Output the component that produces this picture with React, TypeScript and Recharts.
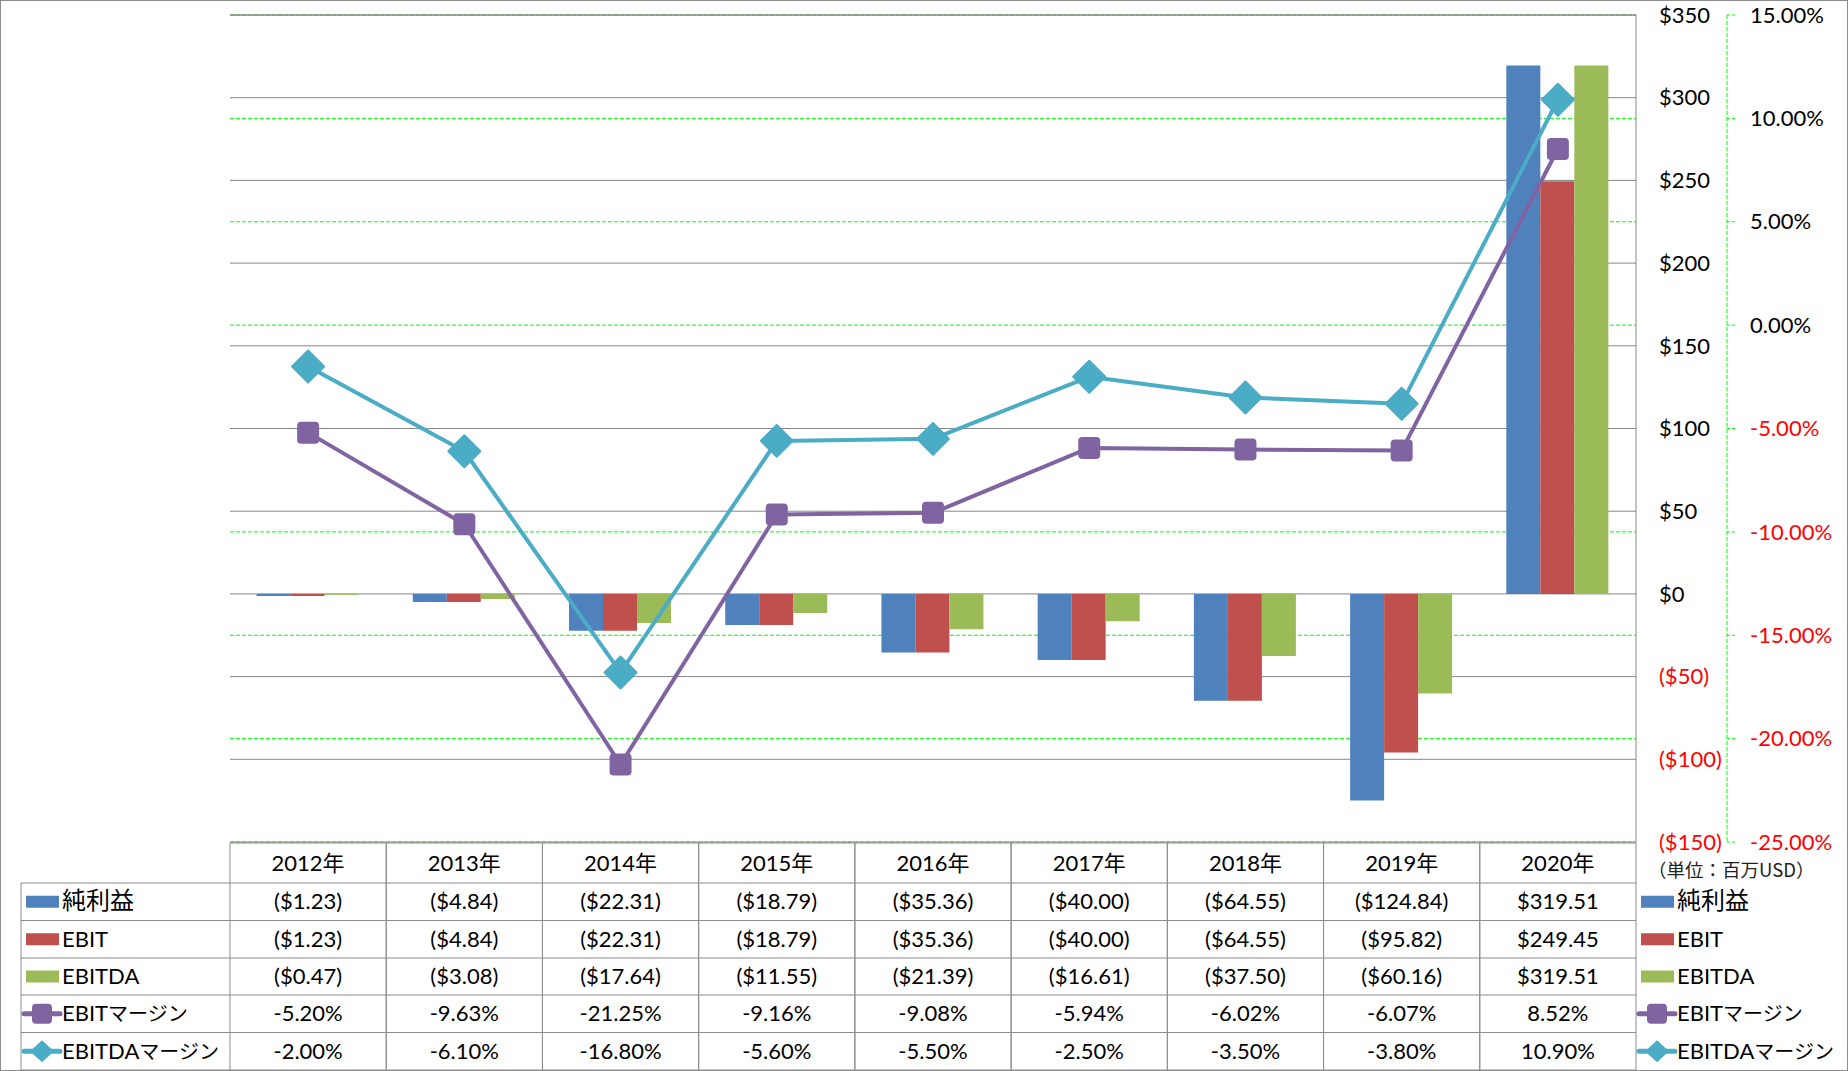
import React from 'react';
import { ComposedChart, Bar, Line, XAxis, YAxis, CartesianGrid, ReferenceLine } from 'recharts';

const years = ['2012年', '2013年', '2014年', '2015年', '2016年', '2017年', '2018年', '2019年', '2020年'];
const netIncome = [-1.23, -4.84, -22.31, -18.79, -35.36, -40.0, -64.55, -124.84, 319.51];
const ebit = [-1.23, -4.84, -22.31, -18.79, -35.36, -40.0, -64.55, -95.82, 249.45];
const ebitda = [-0.47, -3.08, -17.64, -11.55, -21.39, -16.61, -37.5, -60.16, 319.51];
const ebitMargin = [-5.2, -9.63, -21.25, -9.16, -9.08, -5.94, -6.02, -6.07, 8.52];
const ebitdaMargin = [-2.0, -6.1, -16.8, -5.6, -5.5, -2.5, -3.5, -3.8, 10.9];

const usdTicks = [-150, -100, -50, 0, 50, 100, 150, 200, 250, 300, 350];
const pctTicks = [-25, -20, -15, -10, -5, 0, 5, 10, 15];
const seriesNames = ['純利益', 'EBIT', 'EBITDA', 'EBITマージン', 'EBITDAマージン'];
const seriesColors = ['#4F81BD', '#C0504D', '#9BBB59', '#8064A2', '#4BACC6'];
const unitLabel = '（単位：百万USD）';

const data = years.map((year, i) => ({
  year,
  net: netIncome[i],
  ebit: ebit[i],
  ebitda: ebitda[i],
  ebitMargin: ebitMargin[i],
  ebitdaMargin: ebitdaMargin[i],
}));

// ids sort so the dollar axis sits next to the plot
const USD = 'a_usd';
const PCT = 'b_pct';
const FONT = "Lato, 'Noto Sans CJK JP', sans-serif";
const BORDER = '#8c8c8c';
const GRID = '#868686';
// table row edges (header + 5 rows)
const ROWS = [843, 883, 920.5, 958, 995, 1032.5, 1070];
const rowMid = (r: number) => (ROWS[r] + ROWS[r + 1]) / 2;

const fmtMoney = (v: number) => (v < 0 ? `($${Math.abs(v).toFixed(2)})` : `$${v.toFixed(2)}`);
const fmtPct = (v: number) => `${v.toFixed(2)}%`;

const UsdTick = (props: any) => {
  const { x, y, payload } = props;
  const v = payload.value;
  return (
    <text x={x} y={y} dy="0.35em" textAnchor="start" fontSize={22} fontFamily={FONT} fill={v < 0 ? '#FF0000' : '#000'}>
      {v < 0 ? `($${-v})` : `$${v}`}
    </text>
  );
};

const PctTick = (props: any) => {
  const { x, y, payload } = props;
  const v = payload.value;
  return (
    <text x={x} y={y} dy="0.35em" textAnchor="start" fontSize={22} fontFamily={FONT} fill={v < 0 ? '#FF0000' : '#000'}>
      {fmtPct(v)}
    </text>
  );
};

const TableTick = (props: any) => {
  const { x, payload } = props;
  const i = payload.index ?? props.index;
  const half = payload.offset || 78.1;
  const cells = [
    fmtMoney(netIncome[i]),
    fmtMoney(ebit[i]),
    fmtMoney(ebitda[i]),
    fmtPct(ebitMargin[i]),
    fmtPct(ebitdaMargin[i]),
  ];
  return (
    <g>
      {ROWS.map((ry) => (
        <line key={ry} x1={x - half} x2={x + half} y1={ry} y2={ry} stroke={BORDER} />
      ))}
      <line x1={x - half} x2={x - half} y1={ROWS[0]} y2={ROWS[6]} stroke={BORDER} />
      <line x1={x + half} x2={x + half} y1={ROWS[0]} y2={ROWS[6]} stroke={BORDER} />
      <text x={x} y={rowMid(0)} dy="0.35em" textAnchor="middle" fontSize={22} fontFamily={FONT} fill="#000">
        {payload.value}
      </text>
      {cells.map((c, r) => (
        <text key={r} x={x} y={rowMid(r + 1)} dy="0.35em" textAnchor="middle" fontSize={22} fontFamily={FONT} fill="#000">
          {c}
        </text>
      ))}
    </g>
  );
};

const SquareDot = (p: any) => (
  <rect key={`sq-${p.index}`} x={p.cx - 11} y={p.cy - 11} width={22} height={22} rx={4} fill="#8064A2" />
);

const DiamondDot = (p: any) => (
  <polygon
    key={`dm-${p.index}`}
    points={`${p.cx},${p.cy - 16} ${p.cx + 16},${p.cy} ${p.cx},${p.cy + 16} ${p.cx - 16},${p.cy}`}
    fill="#4BACC6"
    stroke="#4BACC6"
    strokeWidth={2}
    strokeLinejoin="round"
  />
);

const LegendLabel = ({ x, y, name }: { x: number; y: number; name: string }) => {
  const m = name.match(/^([A-Z]+)(マージン)$/);
  return (
    <text x={x} y={y} dy="0.35em" fontFamily={FONT} fontSize={22} fill="#000">
      {m ? (
        <>
          {m[1]}
          <tspan fontSize={20}>{m[2]}</tspan>
        </>
      ) : name === '純利益' ? (
        <tspan fontSize={24}>{name}</tspan>
      ) : (
        name
      )}
    </text>
  );
};

const LegendKey = ({ cx, cy, idx }: { cx: number; cy: number; idx: number }) => {
  const color = seriesColors[idx];
  if (idx < 3) return <rect x={cx - 16} y={cy - 6} width={33} height={12} fill={color} />;
  return (
    <g>
      <line x1={cx - 18} x2={cx + 18} y1={cy} y2={cy} stroke={color} strokeWidth={5} strokeLinecap="round" />
      {idx === 3 ? (
        <rect x={cx - 10} y={cy - 10} width={20} height={20} rx={4} fill={color} />
      ) : (
        <polygon points={`${cx},${cy - 11} ${cx + 12},${cy} ${cx},${cy + 11} ${cx - 12},${cy}`} fill={color} />
      )}
    </g>
  );
};

const Overlay = () => (
  <svg width={1848} height={1071} style={{ position: 'absolute', left: 0, top: 0, pointerEvents: 'none' }}>
    <rect x={0.5} y={0.5} width={1847} height={1070} fill="none" stroke={BORDER} />
    {ROWS.slice(1).map((ry) => (
      <line key={ry} x1={21} x2={230} y1={ry} y2={ry} stroke={BORDER} />
    ))}
    <line x1={21} x2={21} y1={ROWS[1]} y2={ROWS[6]} stroke={BORDER} />
    {seriesNames.map((name, r) => (
      <g key={name}>
        <LegendKey cx={42} cy={rowMid(r + 1)} idx={r} />
        <LegendLabel x={62} y={rowMid(r + 1)} name={name} />
        <LegendKey cx={1657} cy={rowMid(r + 1)} idx={r} />
        <LegendLabel x={1677} y={rowMid(r + 1)} name={name} />
      </g>
    ))}
    <text x={1648} y={871} dy="0.35em" fontFamily="'Noto Sans CJK JP', sans-serif" fontSize={18.5} fill="#222">
      {unitLabel}
    </text>
  </svg>
);

export default function App() {
  return (
    <div style={{ position: 'absolute', left: 0, top: 0, width: 1848, height: 1071, background: '#fff' }}>
      <ComposedChart
        width={1848}
        height={1071}
        data={data}
        margin={{ top: 15, right: 0, bottom: 0, left: 230 }}
        barCategoryGap="17%"
        barGap={0}
      >
        <CartesianGrid yAxisId={PCT} vertical={false} stroke="#00FF00" strokeDasharray="4 2" />
        <CartesianGrid yAxisId={USD} vertical={false} stroke={GRID} />
        <XAxis
          dataKey="year"
          height={229}
          interval={0}
          tickLine={false}
          axisLine={false}
          tickSize={0}
          tickMargin={0}
          tick={(p: any) => <TableTick {...p} />}
        />
        <YAxis
          yAxisId={USD}
          orientation="right"
          width={91}
          domain={[-150, 350]}
          ticks={usdTicks}
          interval={0}
          axisLine={{ stroke: GRID }}
          tickLine={false}
          tickSize={0}
          tickMargin={23}
          tick={(p: any) => <UsdTick {...p} />}
        />
        <YAxis
          yAxisId={PCT}
          orientation="right"
          width={121}
          domain={[-25, 15]}
          ticks={pctTicks}
          interval={0}
          axisLine={{ stroke: '#00FF00', strokeDasharray: '4 2' }}
          tickLine={{ stroke: '#00FF00', strokeDasharray: '3 2' }}
          tickSize={8}
          tickMargin={15}
          tick={(p: any) => <PctTick {...p} />}
        />
        <ReferenceLine yAxisId={USD} y={350} stroke={GRID} />
        <Bar yAxisId={USD} dataKey="net" fill={seriesColors[0]} isAnimationActive={false} />
        <Bar yAxisId={USD} dataKey="ebit" fill={seriesColors[1]} isAnimationActive={false} />
        <Bar yAxisId={USD} dataKey="ebitda" fill={seriesColors[2]} isAnimationActive={false} />
        <Line
          yAxisId={PCT}
          dataKey="ebitMargin"
          stroke={seriesColors[3]}
          strokeWidth={4}
          strokeLinejoin="round"
          type="linear"
          dot={SquareDot}
          activeDot={false}
          isAnimationActive={false}
        />
        <Line
          yAxisId={PCT}
          dataKey="ebitdaMargin"
          stroke={seriesColors[4]}
          strokeWidth={4}
          strokeLinejoin="round"
          type="linear"
          dot={DiamondDot}
          activeDot={false}
          isAnimationActive={false}
        />
      </ComposedChart>
      <Overlay />
    </div>
  );
}
